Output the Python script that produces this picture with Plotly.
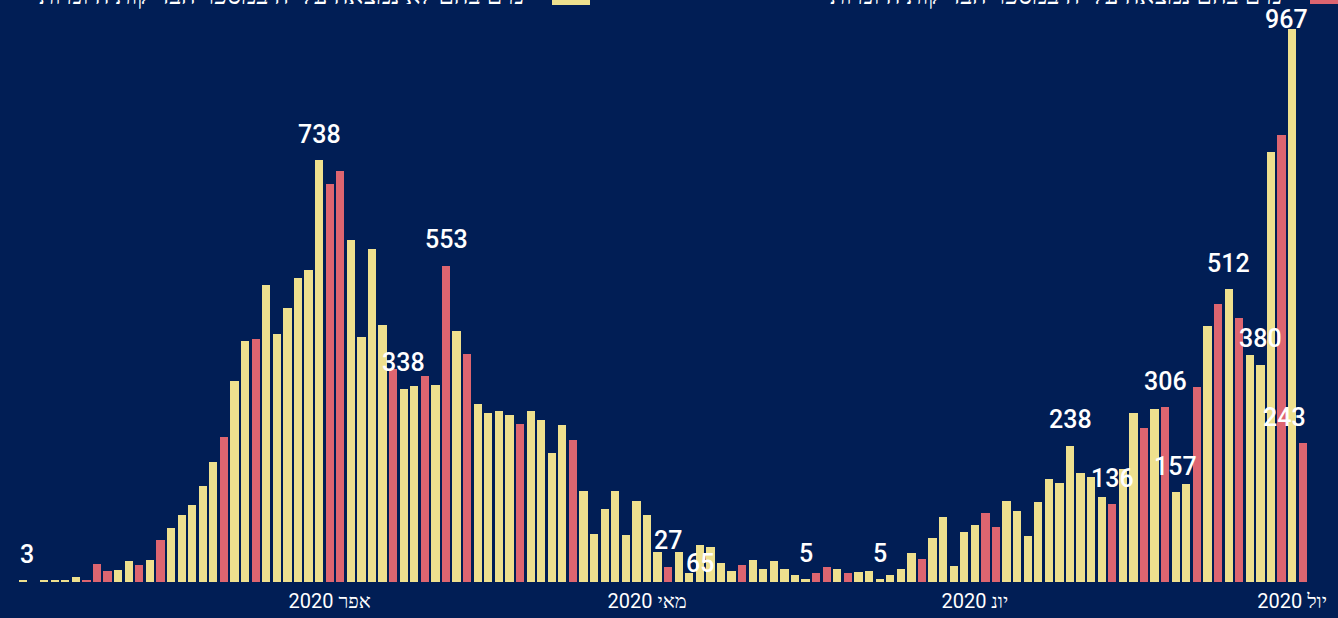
import pandas as pd
import plotly.graph_objects as go

# ---------------- data ----------------
start_date = "2020-03-03"
cases = [3, 0, 2, 2, 2, 9, 4, 32, 19, 21,
         36, 29, 38, 73, 94, 117, 134, 168, 210, 254,
         352, 422, 425, 520, 434, 480, 532, 545, 738, 697,
         719, 598, 428, 582, 450, 373, 338, 343, 360, 344,
         553, 439, 399, 311, 296, 299, 292, 277, 299, 283,
         225, 275, 248, 159, 84, 127, 159, 82, 141, 117,
         52, 27, 52, 15, 65, 61, 33, 19, 29, 39,
         22, 36, 22, 12, 5, 15, 26, 22, 15, 17,
         19, 5, 13, 22, 50, 40, 77, 113, 28, 88,
         99, 120, 96, 141, 124, 80, 140, 180, 173, 238,
         191, 184, 149, 136, 198, 296, 269, 303, 306, 157,
         171, 341, 448, 486, 512, 462, 398, 380, 752, 782,
         967, 243]
red_days = [6, 7, 8, 11, 13, 19, 22, 29, 30, 35, 38, 40, 42, 47, 52, 61, 68,
            75, 76, 78, 85, 91, 92, 103, 106, 108, 111, 113, 115, 119, 121]
labeled_days = [0, 28, 36, 40, 61, 64, 74, 81, 99, 103, 108, 109, 114, 117, 120, 121]
month_ticks = ["2020-04-01", "2020-05-01", "2020-06-01", "2020-07-01"]
month_labels = ["2020 אפר", "2020 מאי", "2020 יונ", "2020 יול"]
legend_red = "ימים בהם נמצאה עלייה במספר הבדיקות היומיות"
legend_yellow = "ימים בהם לא נמצאה עלייה במספר הבדיקות היומיות"

# ---------------- styling ----------------
BG = "#011E55"
YEL = "#EEE08E"
RED = "#DD6570"
FONT = "Roboto"

dates = pd.date_range(start_date, periods=len(cases), freq="D")
colors = [RED if i in red_days else YEL for i in range(len(cases))]

fig = go.Figure()
fig.add_trace(go.Bar(
    x=dates, y=cases, marker=dict(color=colors, line=dict(width=0)),
    width=0.78 * 86400000, hoverinfo="x+y", showlegend=False,
))

label_shift = {0: (4, 26), 64: (0, -19), 120: (-6, 10), 121: (-18, 26)}
for i in labeled_days:
    xs, ys = label_shift.get(i, (0, 26))
    fig.add_annotation(x=dates[i], y=cases[i], text=str(cases[i]), showarrow=False,
                       xshift=xs, yshift=ys, yanchor="middle",
                       font=dict(family=FONT, size=25, color="#FFFFFF", weight=500))

t0 = pd.Timestamp(start_date)
x_range = [t0 - pd.Timedelta(days=2.175), t0 + pd.Timedelta(days=124.34)]

# legend at the top (cropped by the top edge, as in the original)
fig.add_annotation(xref="paper", yref="paper", x=1290 / 1338, y=1, xanchor="right",
                   yanchor="bottom", yshift=-12, text=legend_red, showarrow=False,
                   font=dict(family=FONT, size=25, color="#FFFFFF"))
fig.add_annotation(xref="paper", yref="paper", x=532 / 1338, y=1, xanchor="right",
                   yanchor="bottom", yshift=-12, text=legend_yellow, showarrow=False,
                   font=dict(family=FONT, size=25, color="#FFFFFF"))
fig.add_shape(type="rect", xref="paper", yref="paper", x0=1310 / 1338, x1=1.0,
              y0=1 - 4 / 582, y1=1.05, fillcolor=RED, line=dict(width=0))
fig.add_shape(type="rect", xref="paper", yref="paper", x0=552 / 1338, x1=590 / 1338,
              y0=1 - 5 / 582, y1=1.05, fillcolor=YEL, line=dict(width=0))

fig.update_layout(
    width=1338, height=618,
    paper_bgcolor=BG, plot_bgcolor=BG,
    margin=dict(l=0, r=0, t=0, b=36, pad=0),
    bargap=0,
    xaxis=dict(type="date", range=x_range, showgrid=False, zeroline=False,
               showline=False, ticks="", tickvals=month_ticks, ticktext=month_labels,
               ticklabelstandoff=5,
               tickfont=dict(family=FONT, size=20, color="#FFFFFF")),
    yaxis=dict(range=[0, 582 / 0.5716], showgrid=False, zeroline=False,
               showline=False, showticklabels=False, ticks=""),
)

fig.write_html("out.html", config={"displayModeBar": False},
               post_script="document.body.style.margin='0';document.body.style.overflow='hidden';")
